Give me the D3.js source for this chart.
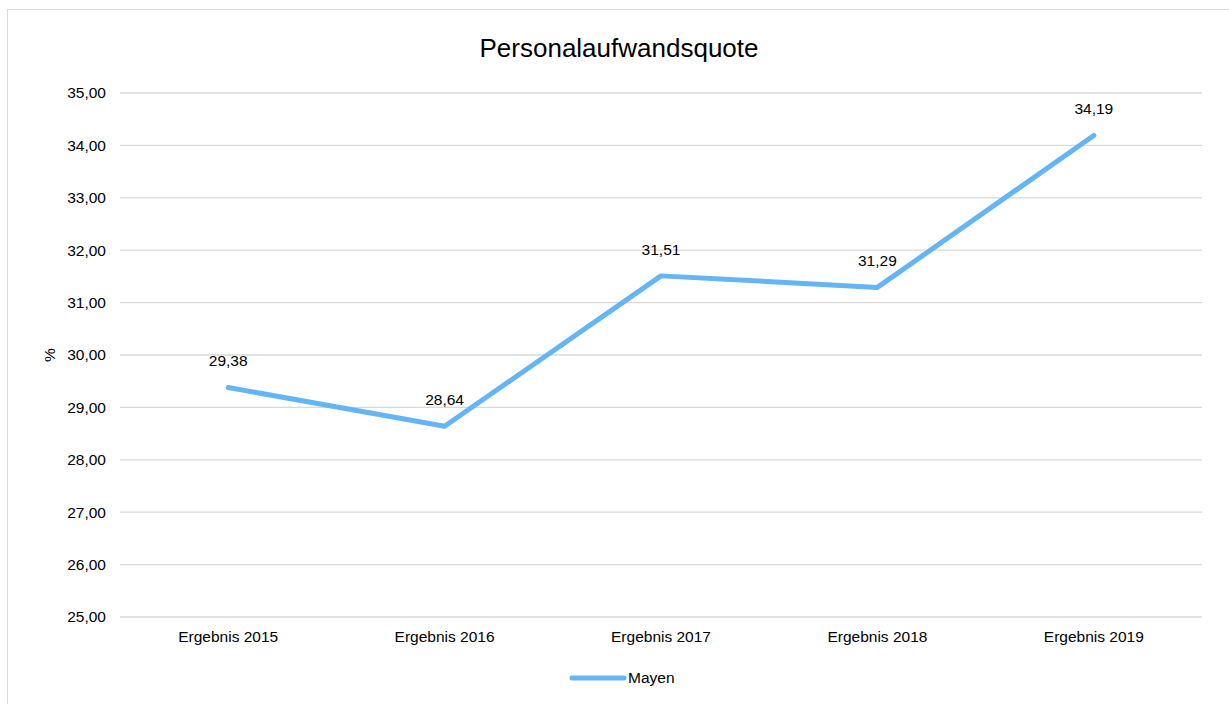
<!DOCTYPE html>
<html>
<head>
<meta charset="utf-8">
<script src="https://cdn.jsdelivr.net/npm/d3@7"></script>
<style>
  body { margin: 0; background: #fff; }
  svg { display: block; font-family: "Liberation Sans", Arial, sans-serif; }
</style>
</head>
<body>
<svg id="chart" width="1229" height="704"></svg>
<script>
var categories = ['Ergebnis 2015', 'Ergebnis 2016', 'Ergebnis 2017', 'Ergebnis 2018', 'Ergebnis 2019'];
var values = [29.38, 28.64, 31.51, 31.29, 34.19];
var yTicks = [25, 26, 27, 28, 29, 30, 31, 32, 33, 34, 35];
var seriesName = 'Mayen';
var chartTitle = 'Personalaufwandsquote';
var yTitle = '%';

var lineColor = '#64b5f6';
var fontSize = 15.5;
var fmt = function (v) { return v.toFixed(2).replace('.', ','); };

var svg = d3.select('#chart');
var plotLeft = 120, plotRight = 1202, plotTop = 93, plotBottom = 617;

// chart frame
svg.append('rect')
  .attr('x', 7.5).attr('y', 9.5)
  .attr('width', 1240).attr('height', 720)
  .attr('fill', 'none')
  .attr('stroke', '#d9d9d9');

var x = d3.scaleBand().domain(categories).range([plotLeft, plotRight]);
var y = d3.scaleLinear().domain([25, 35]).range([plotBottom, plotTop]);

// gridlines
svg.append('g').selectAll('line')
  .data(yTicks)
  .enter().append('line')
  .attr('x1', plotLeft).attr('x2', plotRight)
  .attr('y1', function (d) { return y(d); })
  .attr('y2', function (d) { return y(d); })
  .attr('stroke', '#d9d9d9')
  .attr('stroke-width', 1.3);

// y tick labels
svg.append('g').selectAll('text')
  .data(yTicks)
  .enter().append('text')
  .attr('x', 106)
  .attr('y', function (d) { return y(d); })
  .attr('dy', '0.35em')
  .attr('text-anchor', 'end')
  .attr('font-size', fontSize)
  .attr('fill', '#000')
  .text(fmt);

// x labels
svg.append('g').selectAll('text')
  .data(categories)
  .enter().append('text')
  .attr('x', function (d) { return x(d) + x.bandwidth() / 2; })
  .attr('y', 642)
  .attr('text-anchor', 'middle')
  .attr('font-size', fontSize)
  .attr('fill', '#000')
  .text(function (d) { return d; });

// title
svg.append('text')
  .attr('x', 619).attr('y', 57)
  .attr('text-anchor', 'middle')
  .attr('font-size', 26)
  .attr('fill', '#000')
  .text(chartTitle);

// y axis title
svg.append('text')
  .attr('transform', 'translate(55,355) rotate(-90)')
  .attr('text-anchor', 'middle')
  .attr('font-size', fontSize)
  .attr('fill', '#000')
  .text(yTitle);

// line
var line = d3.line()
  .x(function (d, i) { return x(categories[i]) + x.bandwidth() / 2; })
  .y(function (d) { return y(d); });

svg.append('path')
  .datum(values)
  .attr('d', line)
  .attr('fill', 'none')
  .attr('stroke', lineColor)
  .attr('stroke-width', 5)
  .attr('stroke-linejoin', 'round')
  .attr('stroke-linecap', 'round');

// data labels
svg.append('g').selectAll('text')
  .data(values)
  .enter().append('text')
  .attr('x', function (d, i) { return x(categories[i]) + x.bandwidth() / 2; })
  .attr('y', function (d) { return y(d) - 21; })
  .attr('text-anchor', 'middle')
  .attr('font-size', fontSize)
  .attr('fill', '#000')
  .text(fmt);

// legend
var legend = svg.append('g').attr('transform', 'translate(572,678)');
legend.append('line')
  .attr('x1', 0).attr('x2', 52)
  .attr('stroke', lineColor)
  .attr('stroke-width', 5)
  .attr('stroke-linecap', 'round');
legend.append('text')
  .attr('x', 56).attr('dy', '0.35em')
  .attr('font-size', fontSize)
  .attr('fill', '#000')
  .text(seriesName);
</script>
</body>
</html>
